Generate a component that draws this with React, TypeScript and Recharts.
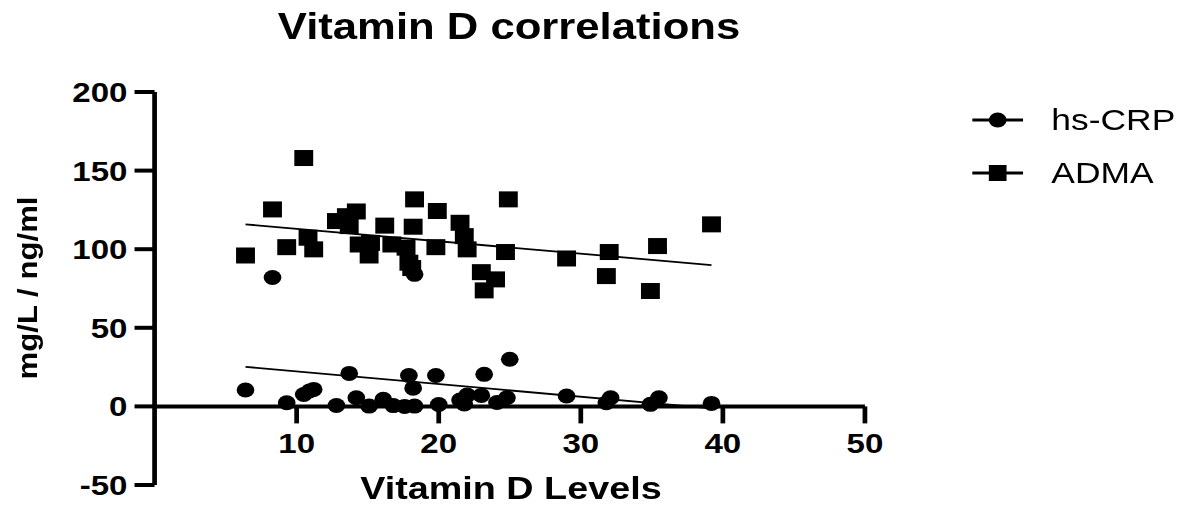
import React from 'react';
import { ScatterChart, Scatter, XAxis, YAxis, ReferenceLine, Legend } from 'recharts';

// ---- data ----
const hsCrpX = [6.4, 8.3, 9.3, 10.5, 10.9, 11.2, 12.8, 13.4, 13.7, 14.2, 15.1, 16.1, 16.8, 17.6, 17.9, 18.2, 18.3, 18.3, 19.8, 20.0, 21.5, 21.8, 22.0, 23.0, 23.2, 24.1, 24.8, 25.0, 29.0, 31.8, 32.1, 34.9, 35.5, 39.2];
const hsCrpY = [10.4, 82, 2.3, 7.6, 9.8, 10.8, 0.6, 120, 21, 5.5, 0.2, 4.5, 0.5, 0, 19.7, 11.6, 0.2, 84, 19.7, 1.2, 4.0, 1.5, 7.2, 7.0, 20.4, 2.5, 5.5, 30, 6.6, 2.3, 5.5, 1.3, 5.5, 1.9];

const admaX = [6.4, 8.3, 9.3, 10.5, 10.8, 11.2, 12.8, 13.5, 14.2, 13.7, 14.4, 15.1, 15.2, 16.2, 16.7, 17.7, 17.9, 18.1, 18.2, 18.3, 19.9, 19.8, 21.5, 21.8, 22.0, 23.0, 23.2, 24.0, 24.7, 24.9, 29.0, 31.8, 32.0, 34.9, 35.4, 39.2];
const admaY = [96, 125.3, 101.3, 158, 107.3, 99.9, 117.9, 121, 124, 114.7, 103, 96, 104, 115, 103, 101, 91.4, 88, 114.3, 131.7, 124.3, 101.3, 116.8, 108.3, 99.9, 85.4, 73.8, 80.8, 98.2, 131.7, 94.1, 82.9, 98.2, 73.4, 102, 115.8];

// fitted lines (endpoints)
const hsCrpFitX = [6.4, 39.2];
const hsCrpFitY = [25.2, -1.3];
const admaFitX = [6.4, 39.2];
const admaFitY = [115.8, 89.9];

const xTicks = [10, 20, 30, 40, 50];
const yTicks = [-50, 0, 50, 100, 150, 200];
const seriesNames = ['hs-CRP', 'ADMA'];

const hsCrpData = hsCrpX.map((x, i) => ({ x, y: hsCrpY[i] }));
const admaData = admaX.map((x, i) => ({ x, y: admaY[i] }));
const hsCrpFit = hsCrpFitX.map((x, i) => ({ x, y: hsCrpFitY[i] }));
const admaFit = admaFitX.map((x, i) => ({ x, y: admaFitY[i] }));

// ---- layout ----
const S = 1.18; // horizontal stretch of the reference image
const W = 1004;
const H = 506;
const MARGIN = { top: 92, right: 271, bottom: 20, left: 51 };
const Y_AXIS_W = 80;
const X_AXIS_H = 1;
const PLOT_H = H - MARGIN.top - MARGIN.bottom - X_AXIS_H;
const Y_MIN = -50;
const Y_MAX = 200;
const FONT = '"Liberation Sans", Arial, sans-serif';

const XTick = (props: any) => {
  const { x, y, payload } = props;
  const y0 = y - (PLOT_H * (0 - Y_MIN)) / (Y_MAX - Y_MIN);
  return (
    <g>
      <line x1={x} x2={x} y1={y0} y2={y0 + 17} stroke="#000" strokeWidth={4} />
      <text x={x} y={y0 + 47} textAnchor="middle" fontSize={28} fontWeight="bold" fill="#000" fontFamily={FONT}>
        {payload.value}
      </text>
    </g>
  );
};

const CircleShape = (props: any) => <circle cx={props.cx} cy={props.cy} r={7.5} fill="#000" />;
const SquareShape = (props: any) => <rect x={props.cx - 8} y={props.cy - 8} width={16} height={16} fill="#000" />;

const LegendContent = () => (
  <svg width={190} height={100} style={{ overflow: 'visible' }}>
    {seriesNames.map((n, i) => {
      const cy = 20 + i * 53;
      return (
        <g key={n}>
          <line x1={4} x2={47} y1={cy} y2={cy} stroke="#000" strokeWidth={2.8} />
          {i === 0 ? (
            <circle cx={25.5} cy={cy} r={7.5} fill="#000" />
          ) : (
            <rect x={18} y={cy - 8} width={15} height={16} fill="#000" />
          )}
          <text x={71} y={cy + 10.5} fontSize={30} fill="#000" fontFamily={FONT}>
            {n}
          </text>
        </g>
      );
    })}
  </svg>
);

export default function App() {
  return (
    <div
      style={{
        position: 'absolute',
        left: 0,
        top: 0,
        width: W,
        height: H,
        transform: `scaleX(${S})`,
        transformOrigin: '0 0',
        fontFamily: FONT,
        background: '#fff',
      }}
    >
      <ScatterChart width={W} height={H} margin={MARGIN}>
        <XAxis
          type="number"
          dataKey="x"
          domain={[0, 50]}
          ticks={xTicks}
          interval={0}
          axisLine={false}
          tickLine={false}
          tickSize={0}
          tickMargin={0}
          height={X_AXIS_H}
          tick={<XTick />}
          allowDataOverflow
        />
        <YAxis
          type="number"
          dataKey="y"
          domain={[Y_MIN, Y_MAX]}
          ticks={yTicks}
          interval={0}
          width={Y_AXIS_W}
          axisLine={{ stroke: '#000', strokeWidth: 4 }}
          tickLine={{ stroke: '#000', strokeWidth: 4 }}
          tickSize={17}
          tickMargin={6}
          tick={{ fill: '#000', fontSize: 28, fontWeight: 'bold', fontFamily: FONT }}
          allowDataOverflow
        />
        <ReferenceLine y={0} stroke="#000" strokeWidth={4} />
        <ReferenceLine segment={hsCrpFit} stroke="#000" strokeWidth={1.8} />
        <ReferenceLine segment={admaFit} stroke="#000" strokeWidth={1.8} />
        <Scatter name={seriesNames[0]} data={hsCrpData} fill="#000" shape={<CircleShape />} isAnimationActive={false} />
        <Scatter name={seriesNames[1]} data={admaData} fill="#000" shape={<SquareShape />} isAnimationActive={false} />
        <Legend
          layout="vertical"
          align="center"
          verticalAlign="middle"
          content={<LegendContent />}
          wrapperStyle={{ left: 820, top: 100, width: 190, height: 100 }}
        />
      </ScatterChart>
      <svg width={W} height={H} style={{ position: 'absolute', left: 0, top: 0, pointerEvents: 'none' }}>
        <text x={431.4} y={39} textAnchor="middle" fontSize={37} fontWeight="bold" fill="#000" fontFamily={FONT}>
          Vitamin D correlations
        </text>
        <text x={433} y={499} textAnchor="middle" fontSize={32} fontWeight="bold" fill="#000" fontFamily={FONT}>
          Vitamin D Levels
        </text>
        <text
          transform="translate(31,288) rotate(-90)"
          textAnchor="middle"
          fontSize={24}
          fontWeight="bold"
          fill="#000"
          fontFamily={FONT}
          textLength={183}
          lengthAdjust="spacingAndGlyphs"
        >
          mg/L / ng/ml
        </text>
      </svg>
    </div>
  );
}
